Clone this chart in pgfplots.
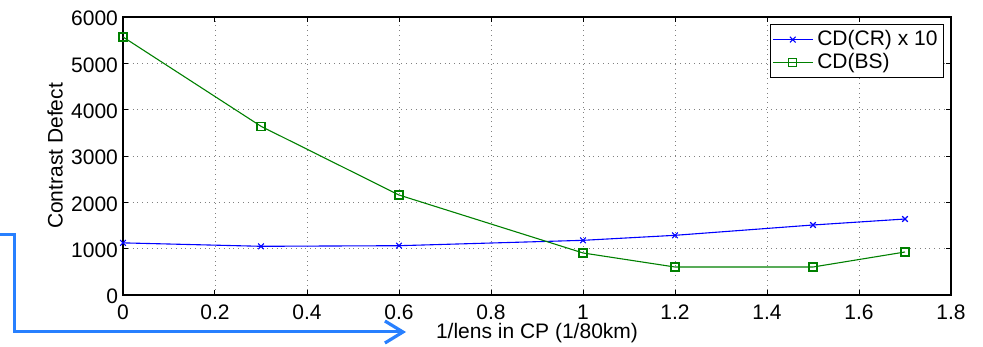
\documentclass[border=0pt]{standalone}
\usepackage{fontspec}
\setmainfont{Liberation Sans}
\usepackage{pgfplots}
\pgfplotsset{compat=1.18}
\usetikzlibrary{arrows.meta}
\definecolor{arrowblue}{RGB}{40,128,255}
\definecolor{mgreen}{RGB}{0,128,0}
\begin{document}
\begin{tikzpicture}
\useasboundingbox (-61.5pt,-26pt) rectangle (430pt,147.5pt);
\begin{axis}[
  scale only axis,
  width=414pt, height=139pt,
  xmin=0, xmax=1.8, ymin=0, ymax=6000,
  xtick={0,0.2,...,1.8},
  ytick={0,1000,...,6000},
  /pgf/number format/assume math mode=true,
  scaled y ticks=false,
  yticklabel style={/pgf/number format/fixed, /pgf/number format/1000 sep={}, xshift=1pt, yshift=-0.8pt},
  xticklabel style={/pgf/number format/fixed, inner sep=0pt, yshift=-4.6pt},
  tick label style={font=\fontsize{10.5}{12}\selectfont},
  label style={font=\fontsize{10.5}{12}\selectfont},
  tick align=inside,
  major tick length=2.5pt,
  tick style={black, line width=0.5pt},
  axis line style={line width=0.75pt},
  grid=major,
  major grid style={dotted, gray, line width=0.4pt},
  xlabel={1/lens in CP (1/80km)},
  ylabel={Contrast Defect},
  every axis x label/.style={at={(axis description cs:0.5,-0.136)}, anchor=center, inner sep=0pt, font=\fontsize{10.5}{12}\selectfont},
  every axis y label/.style={at={(axis description cs:-0.082,0.5)}, anchor=center, rotate=90, inner sep=0pt, font=\fontsize{10.5}{12}\selectfont},
  legend style={at={(1,1)}, xshift=-3.5pt, yshift=-3.5pt, anchor=north east,
    font=\fontsize{10.5}{12}\selectfont, draw=black, line width=0.5pt,
    inner sep=1pt, row sep=-1.5pt},
  legend cell align=left,
  legend image code/.code={%
    \draw[mark repeat=2,mark phase=2] plot coordinates {(0pt,0pt) (10pt,0pt) (20pt,0pt)};},
]
\addplot[blue, line width=0.55pt, mark=x, mark size=2pt, mark options={solid}] coordinates {
  (0,1125) (0.3,1051) (0.6,1064) (1.0,1180) (1.2,1288) (1.5,1511) (1.7,1640)};
\addlegendentry{CD(CR) x 10}
\addplot[mgreen, line width=0.55pt, mark=square, mark size=2pt, mark options={solid}] coordinates {
  (0,5569) (0.3,3641) (0.6,2158) (1.0,907) (1.2,604) (1.5,604) (1.7,928)};
\addlegendentry{CD(BS)}
\end{axis}
\draw[arrowblue, line width=1.5pt, -{Straight Barb[length=9pt,width=11pt,line width=1.6pt]}]
  (-62pt,30pt) -- (-54pt,30pt) -- (-54pt,-18.5pt) -- (141.5pt,-18.5pt);
\end{tikzpicture}
\end{document}
